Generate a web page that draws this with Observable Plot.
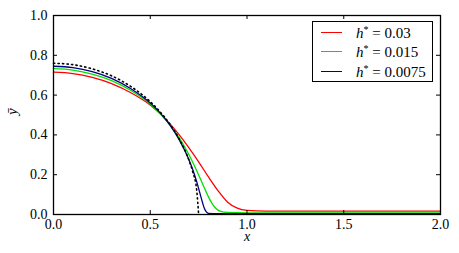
<!DOCTYPE html>
<html>
<head>
<meta charset="utf-8">
<script src="https://cdn.jsdelivr.net/npm/d3@7"></script>
<script src="https://cdn.jsdelivr.net/npm/@observablehq/plot@0.6"></script>
<style>
  body { margin: 0; background: #fff; }
  #wrap { position: relative; width: 459px; height: 253px; font-family: 'Liberation Serif'; }
  #legend { position: absolute; left: 312px; top: 21px; width: 119px; height: 59px; border: 1px solid #000; background: #fff; }
  .row { position: absolute; left: 0; height: 16px; font-size: 15px; line-height: 16px; white-space: nowrap; }
  .sw { position: absolute; left: 8px; width: 21px; height: 0; border-top: 1.6px solid; top: 7px; }
  .lab { position: absolute; left: 43px; top: 0; }
  sup { font-size: 10px; vertical-align: 0; position: relative; top: -5px; }
</style>
</head>
<body>
<div id="wrap"></div>
<script>
// tick values
const xTicks = [0, 0.5, 1.0, 1.5, 2.0];
const yTicks = [0, 0.2, 0.4, 0.6, 0.8, 1.0];

// reference (sharp) solution, dotted
const exactX = [0, 0.1, 0.2, 0.3, 0.4, 0.5, 0.55, 0.6, 0.65, 0.7, 0.72, 0.74, 0.75];
const exactY = [0.76, 0.753, 0.732, 0.697, 0.643, 0.567, 0.517, 0.456, 0.379, 0.273, 0.213, 0.123, 0.0];

// h* = 0.03
const redX = [0, 0.1, 0.2, 0.3, 0.4, 0.5, 0.6, 0.65, 0.7, 0.75, 0.8, 0.85, 0.9, 0.95, 1.0, 1.1, 2.0];
const redY = [0.715, 0.708, 0.689, 0.658, 0.612, 0.55, 0.458, 0.4, 0.335, 0.265, 0.19, 0.12, 0.062, 0.032, 0.021, 0.017, 0.017];

// h* = 0.015
const greenX = [0, 0.1, 0.2, 0.3, 0.4, 0.5, 0.6, 0.65, 0.7, 0.74, 0.77, 0.8, 0.82, 0.84, 0.86, 0.9, 1.0, 2.0];
const greenY = [0.733, 0.726, 0.706, 0.673, 0.623, 0.555, 0.452, 0.385, 0.3, 0.22, 0.155, 0.09, 0.055, 0.03, 0.017, 0.01, 0.008, 0.008];

// h* = 0.0075
const blueX = [0, 0.1, 0.2, 0.3, 0.4, 0.5, 0.55, 0.6, 0.65, 0.7, 0.72, 0.74, 0.76, 0.77, 0.78, 0.79, 0.8, 0.85, 2.0];
const blueY = [0.745, 0.738, 0.718, 0.684, 0.632, 0.56, 0.512, 0.452, 0.375, 0.275, 0.225, 0.165, 0.095, 0.06, 0.03, 0.013, 0.006, 0.004, 0.004];

const seriesValues = ["0.03", "0.015", "0.0075"];
const seriesColors = ["#ff0000", "#00e000", "#000080"];
const series = [
  {value: seriesValues[0], xs: redX, ys: redY, color: seriesColors[0]},
  {value: seriesValues[1], xs: greenX, ys: greenY, color: seriesColors[1]},
  {value: seriesValues[2], xs: blueX, ys: blueY, color: seriesColors[2]}
];
const toRows = (xs, ys) => xs.map((x, i) => ({x, y: ys[i]}));
const exactRows = toRows(exactX, exactY);

const FONT = "Liberation Serif";
const W = 459, H = 253, mL = 53, mR = 19, mT = 15, mB = 39;
const innerW = W - mL - mR, innerH = H - mT - mB;
const tk = 4;

const marks = [
  ...series.map(s => Plot.line(toRows(s.xs, s.ys), {x: "x", y: "y", stroke: s.color, strokeWidth: 1.3, curve: "monotone-x"})),
  Plot.line(exactRows, {x: "x", y: "y", stroke: "#000", strokeWidth: 1.6, strokeDasharray: "1.3,3.2", curve: "monotone-x"}),
  // inward ticks on all four sides
  Plot.ruleX(xTicks, {x: d => d, insetTop: innerH - tk, stroke: "#000"}),
  Plot.ruleX(xTicks, {x: d => d, insetBottom: innerH - tk, stroke: "#000"}),
  Plot.ruleY(yTicks, {y: d => d, insetRight: innerW - tk, stroke: "#000"}),
  Plot.ruleY(yTicks, {y: d => d, insetLeft: innerW - tk, stroke: "#000"}),
  Plot.axisX(xTicks, {tickSize: 0, tickPadding: 5, tickFormat: d3.format(".1f"), label: null, fontSize: 14, fontFamily: FONT}),
  Plot.axisY(yTicks, {tickSize: 0, tickPadding: 6, tickFormat: d3.format(".1f"), label: null, fontSize: 14, fontFamily: FONT}),
  Plot.text(["x"], {frameAnchor: "bottom", dy: 26, fontStyle: "italic", fontSize: 14, fill: "#000", fontFamily: FONT}),
  Plot.text(["\u0233"], {frameAnchor: "left", dx: -41, rotate: -90, fontStyle: "italic", fontSize: 15, fill: "#000", fontFamily: FONT}),
  Plot.frame({stroke: "#000", strokeWidth: 1.3})
];

const chart = Plot.plot({
  width: W, height: H,
  marginLeft: mL, marginRight: mR, marginTop: mT, marginBottom: mB,
  style: {fontFamily: FONT, fontSize: "14px", color: "#000", background: "#fff"},
  x: {domain: [0, 2], axis: null},
  y: {domain: [0, 1], axis: null},
  marks
});

const wrap = document.getElementById("wrap");
wrap.appendChild(chart);

const legend = document.createElement("div");
legend.id = "legend";
series.forEach((s, i) => {
  const row = document.createElement("div");
  row.className = "row";
  row.style.top = (2.5 + i * 19.7) + "px";
  row.style.width = "119px";
  const sw = document.createElement("span");
  sw.className = "sw";
  sw.style.borderTopColor = s.color;
  const lab = document.createElement("span");
  lab.className = "lab";
  lab.innerHTML = '<i>h</i><sup>*</sup> = ' + s.value;
  row.appendChild(sw);
  row.appendChild(lab);
  legend.appendChild(row);
});
wrap.appendChild(legend);
</script>
</body>
</html>
